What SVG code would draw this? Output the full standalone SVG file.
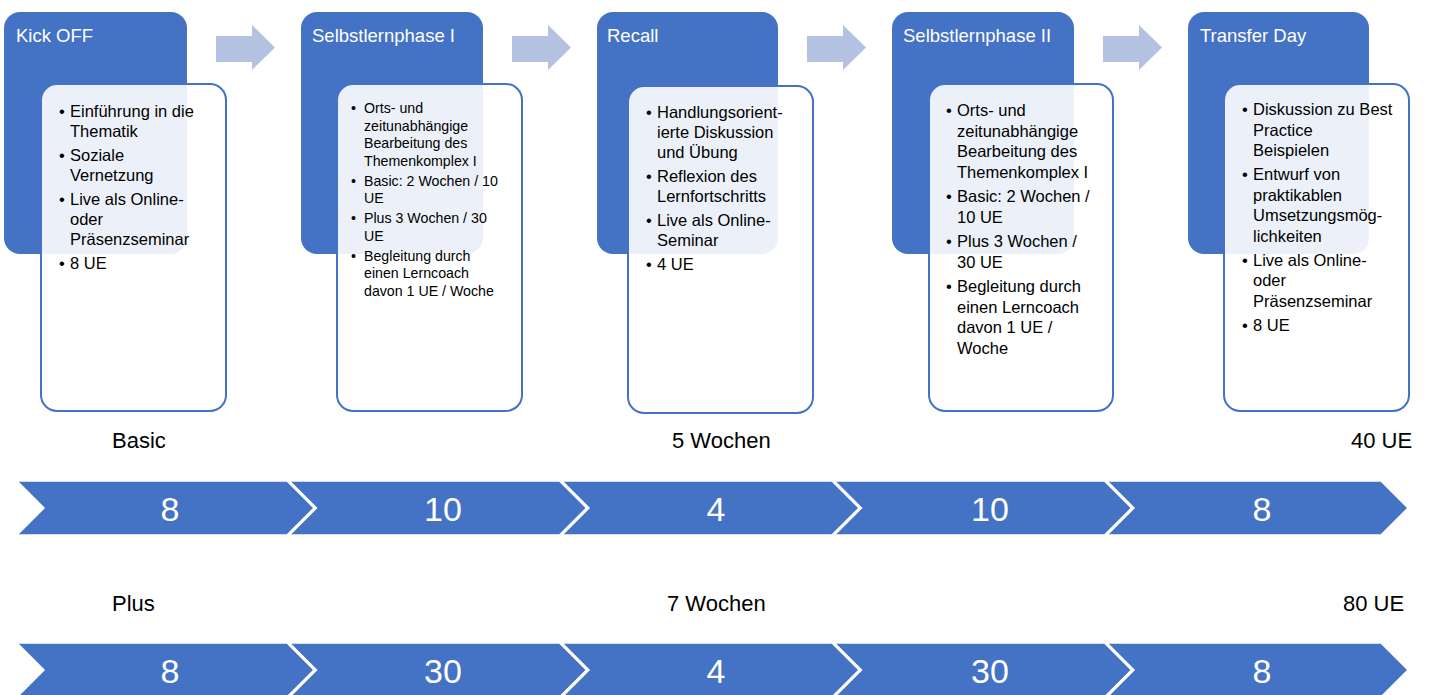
<svg xmlns="http://www.w3.org/2000/svg" width="1431" height="695" viewBox="0 0 1431 695">
<style>
.hd{fill:#4472C4}
.card{fill:#FFFFFF;fill-opacity:0.9;stroke:#4472C4;stroke-width:2}
.ttl{font-family:"Liberation Sans",Arial,sans-serif;font-size:18.5px;fill:#FFFFFF}
.bt{font-family:"Liberation Sans",Arial,sans-serif;font-size:16.5px;fill:#000000}
.bs{font-family:"Liberation Sans",Arial,sans-serif;font-size:14.2px;fill:#000000}
.arr{fill:#B4C2E2}
.chev{fill:#4472C4;stroke:#FFFFFF;stroke-width:1.5}
.num{font-family:"Liberation Sans",Arial,sans-serif;font-size:34px;fill:#FFFFFF;text-anchor:middle}
.lbl{font-family:"Liberation Sans",Arial,sans-serif;font-size:22px;fill:#000000}
</style>
<rect width="1431" height="695" fill="#FFFFFF"/>

<g id="connectors">
<polygon class="arr" points="216,36 252,36 252,25 275,47.5 252,70 252,62 216,62"/>
<polygon class="arr" points="512,36 548,36 548,25 571,47.5 548,70 548,62 512,62"/>
<polygon class="arr" points="807,36 843,36 843,25 866,47.5 843,70 843,62 807,62"/>
<polygon class="arr" points="1103,36 1139,36 1139,25 1162,47.5 1139,70 1139,62 1103,62"/>
</g>

<g id="node-kickoff">
<rect class="hd" x="4" y="12" width="183" height="242" rx="16"/>
<text class="ttl" x="16" y="42">Kick OFF</text>
<rect class="card" x="41" y="84" width="185" height="327" rx="16"/>
<g class="bt">
<text x="59" y="117">•</text><text x="70" y="117">Einführung in die</text><text x="70" y="137">Thematik</text>
<text x="59" y="161">•</text><text x="70" y="161">Soziale</text><text x="70" y="181">Vernetzung</text>
<text x="59" y="205">•</text><text x="70" y="205">Live als Online-</text><text x="70" y="225">oder</text><text x="70" y="245">Präsenzseminar</text>
<text x="59" y="269">•</text><text x="70" y="269">8 UE</text>
</g>
</g>

<g id="node-selbstlern1">
<rect class="hd" x="301" y="12" width="182" height="242" rx="16"/>
<text class="ttl" x="312" y="42">Selbstlernphase I</text>
<rect class="card" x="337" y="84" width="185" height="327" rx="16"/>
<g class="bs">
<text x="351" y="113">•</text><text x="364" y="113">Orts- und</text><text x="364" y="130.5">zeitunabhängige</text><text x="364" y="148">Bearbeitung des</text><text x="364" y="165.5">Themenkomplex I</text>
<text x="351" y="185.5">•</text><text x="364" y="185.5">Basic: 2 Wochen / 10</text><text x="364" y="203">UE</text>
<text x="351" y="223">•</text><text x="364" y="223">Plus 3 Wochen / 30</text><text x="364" y="240.5">UE</text>
<text x="351" y="260.5">•</text><text x="364" y="260.5">Begleitung durch</text><text x="364" y="278">einen Lerncoach</text><text x="364" y="295.5">davon 1 UE / Woche</text>
</g>
</g>

<g id="node-recall">
<rect class="hd" x="597" y="12" width="181" height="242" rx="16"/>
<text class="ttl" x="607" y="42">Recall</text>
<rect class="card" x="628" y="86" width="185" height="327" rx="16"/>
<g class="bt">
<text x="646" y="118">•</text><text x="657" y="118">Handlungsorient-</text><text x="657" y="138">ierte Diskussion</text><text x="657" y="158">und Übung</text>
<text x="646" y="182">•</text><text x="657" y="182">Reflexion des</text><text x="657" y="202">Lernfortschritts</text>
<text x="646" y="226">•</text><text x="657" y="226">Live als Online-</text><text x="657" y="246">Seminar</text>
<text x="646" y="270">•</text><text x="657" y="270">4 UE</text>
</g>
</g>

<g id="node-selbstlern2">
<rect class="hd" x="892" y="12" width="182" height="242" rx="16"/>
<text class="ttl" x="903" y="42">Selbstlernphase II</text>
<rect class="card" x="929" y="84" width="184" height="327" rx="16"/>
<g class="bt">
<text x="946" y="116">•</text><text x="957" y="116">Orts- und</text><text x="957" y="136.5">zeitunabhängige</text><text x="957" y="157">Bearbeitung des</text><text x="957" y="177.5">Themenkomplex I</text>
<text x="946" y="202">•</text><text x="957" y="202">Basic: 2 Wochen /</text><text x="957" y="222.5">10 UE</text>
<text x="946" y="247">•</text><text x="957" y="247">Plus 3 Wochen /</text><text x="957" y="267.5">30 UE</text>
<text x="946" y="292">•</text><text x="957" y="292">Begleitung durch</text><text x="957" y="312.5">einen Lerncoach</text><text x="957" y="333">davon 1 UE /</text><text x="957" y="353.5">Woche</text>
</g>
</g>

<g id="node-transfer">
<rect class="hd" x="1188" y="12" width="181" height="242" rx="16"/>
<text class="ttl" x="1200" y="42">Transfer Day</text>
<rect class="card" x="1224" y="84" width="185" height="327" rx="16"/>
<g class="bt">
<text x="1242" y="115">•</text><text x="1253" y="115">Diskussion zu Best</text><text x="1253" y="135.5">Practice</text><text x="1253" y="156">Beispielen</text>
<text x="1242" y="180">•</text><text x="1253" y="180">Entwurf von</text><text x="1253" y="200.5">praktikablen</text><text x="1253" y="221">Umsetzungsmög-</text><text x="1253" y="241.5">lichkeiten</text>
<text x="1242" y="265.5">•</text><text x="1253" y="265.5">Live als Online-</text><text x="1253" y="286">oder</text><text x="1253" y="306.5">Präsenzseminar</text>
<text x="1242" y="331">•</text><text x="1253" y="331">8 UE</text>
</g>
</g>

<g id="labels-basic">
<text class="lbl" x="112" y="448">Basic</text>
<text class="lbl" x="672" y="448">5 Wochen</text>
<text class="lbl" x="1351" y="448">40 UE</text>
</g>

<g id="bar-basic">
<polygon class="chev" points="17,481 287,481 314,508 287,535 17,535 44,508"/>
<polygon class="chev" points="289.5,481 559.5,481 586.5,508 559.5,535 289.5,535 316.5,508"/>
<polygon class="chev" points="562,481 832,481 859,508 832,535 562,535 589,508"/>
<polygon class="chev" points="834.5,481 1104.5,481 1131.5,508 1104.5,535 834.5,535 861.5,508"/>
<polygon class="chev" points="1107,481 1381,481 1408,508 1381,535 1107,535 1134,508"/>
<text class="num" x="170" y="521">8</text>
<text class="num" x="443" y="521">10</text>
<text class="num" x="716" y="521">4</text>
<text class="num" x="990" y="521">10</text>
<text class="num" x="1262" y="521">8</text>
</g>

<g id="labels-plus">
<text class="lbl" x="112" y="611">Plus</text>
<text class="lbl" x="667" y="611">7 Wochen</text>
<text class="lbl" x="1343" y="611">80 UE</text>
</g>

<g id="bar-plus">
<polygon class="chev" points="17,643 287,643 314,670 287,697 17,697 44,670"/>
<polygon class="chev" points="289.5,643 559.5,643 586.5,670 559.5,697 289.5,697 316.5,670"/>
<polygon class="chev" points="562,643 832,643 859,670 832,697 562,697 589,670"/>
<polygon class="chev" points="834.5,643 1104.5,643 1131.5,670 1104.5,697 834.5,697 861.5,670"/>
<polygon class="chev" points="1107,643 1381,643 1408,670 1381,697 1107,697 1134,670"/>
<text class="num" x="170" y="683">8</text>
<text class="num" x="443" y="683">30</text>
<text class="num" x="716" y="683">4</text>
<text class="num" x="990" y="683">30</text>
<text class="num" x="1262" y="683">8</text>
</g>
</svg>
